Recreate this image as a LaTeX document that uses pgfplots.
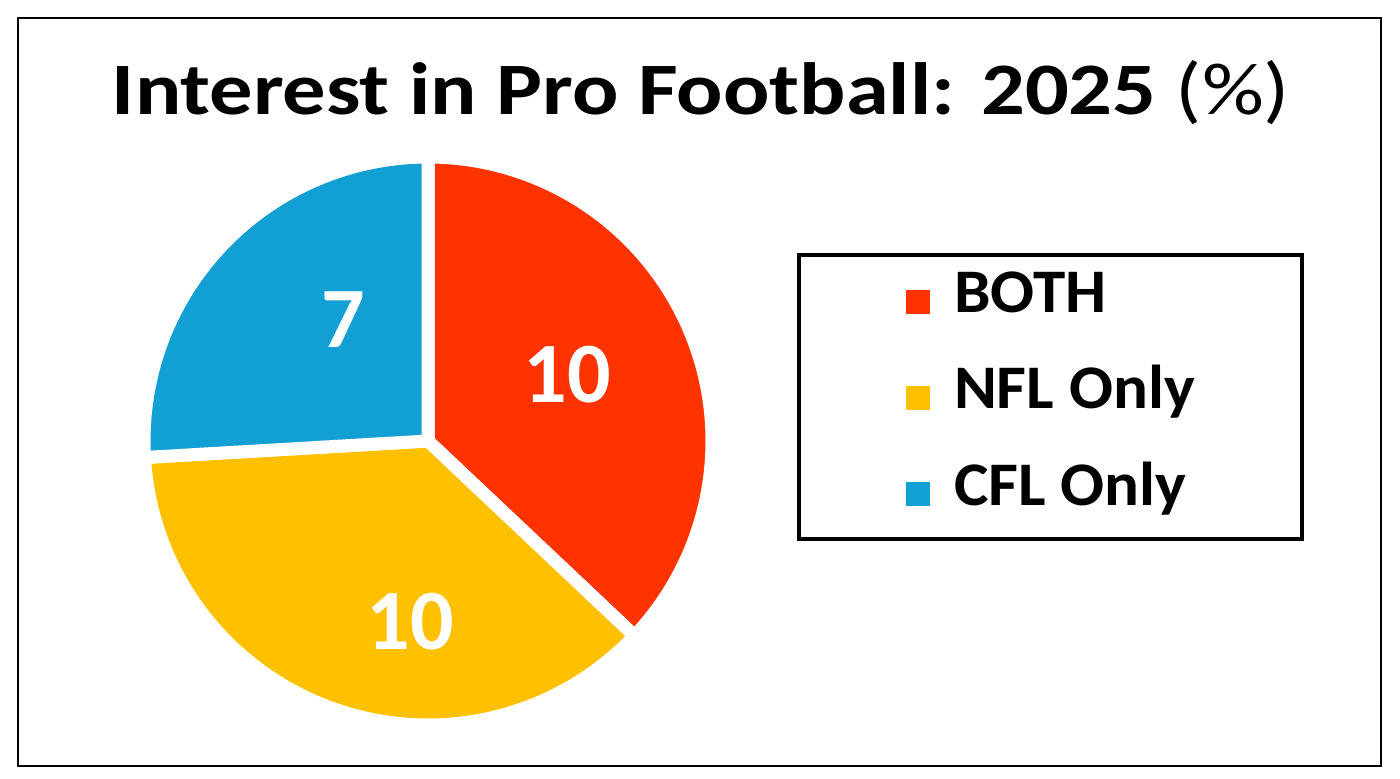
\documentclass[border=0pt]{standalone}
\usepackage{fontspec}
\setmainfont{Carlito}
\usepackage{graphicx}
\usepackage{pgfplots}
\usepackage{pgfplotstable}
\pgfplotsset{compat=1.18}

\definecolor{cboth}{HTML}{FF3300}
\definecolor{cnfl}{HTML}{FFC000}
\definecolor{ccfl}{HTML}{129FD4}

\pgfplotstableread{
label value
BOTH 10
NFL 10
CFL 7
}\piedata

\newcommand\legtext[1]{\hspace{12pt}\scalebox{1.05}[1]{#1}}

\begin{document}
\begin{tikzpicture}
% slice values and angles (clockwise from 12 o'clock)
\pgfplotstablegetelem{0}{value}\of\piedata \let\va\pgfplotsretval
\pgfplotstablegetelem{1}{value}\of\piedata \let\vb\pgfplotsretval
\pgfplotstablegetelem{2}{value}\of\piedata \let\vc\pgfplotsretval
\pgfmathsetmacro\tot{\va+\vb+\vc}
\pgfmathsetmacro\aA{90}
\pgfmathsetmacro\aB{\aA-360*\va/\tot}
\pgfmathsetmacro\aC{\aB-360*\vb/\tot}
\pgfmathsetmacro\aD{\aC-360*\vc/\tot}
\def\cx{428}\def\cy{441}\def\rr{284}
\begin{axis}[
    scale only axis,
    width=700pt, height=389.5pt,
    xmin=0, xmax=1400, ymin=0, ymax=779,
    y dir=reverse,
    hide axis, clip=false,
    legend style={
        at={(axis cs:797,253)}, anchor=north west,
        draw=black, line width=2pt,
        inner xsep=53.5pt, inner ysep=9pt,
        row sep=20pt,
        font=\bfseries\fontsize{31}{31}\selectfont,
        nodes={inner sep=0pt, text height=20pt, text depth=8pt},
    },
    legend cell align=left,
    legend image code/.code={
        \path[#1, draw=none] (0pt,-6.5pt) rectangle (12pt,5.5pt);
    },
]
\path (rel axis cs:0,0) rectangle (rel axis cs:1,1);

\addplot[fill=cboth, draw=white, line width=6.5pt, line join=round,
    domain=\aB:\aA, samples=120]
    ({\cx+\rr*cos(x)}, {\cy-\rr*sin(x)}) -- (\cx,\cy) -- cycle;
\addlegendentry{\legtext{BOTH}}
\addplot[fill=cnfl, draw=white, line width=6.5pt, line join=round,
    domain=\aC:\aB, samples=120]
    ({\cx+\rr*cos(x)}, {\cy-\rr*sin(x)}) -- (\cx,\cy) -- cycle;
\addlegendentry{\legtext{NFL Only}}
\addplot[fill=ccfl, draw=white, line width=6.5pt, line join=round,
    domain=\aD:\aC, samples=120]
    ({\cx+\rr*cos(x)}, {\cy-\rr*sin(x)}) -- (\cx,\cy) -- cycle;
\addlegendentry{\legtext{CFL Only}}

% slice labels
\node[text=white, font=\bfseries\fontsize{43}{43}\selectfont] at (567,375) {\va};
\node[text=white, font=\bfseries\fontsize{43}{43}\selectfont] at (410,622) {\vb};
\node[text=white, font=\bfseries\fontsize{43}{43}\selectfont] at (343,320) {\vc};

% title and frame
\node[anchor=base, inner sep=0pt, font=\bfseries\fontsize{37}{37}\selectfont] at (701,115)
    {\resizebox{589pt}{\height}{Interest in Pro Football: 2025 {\mdseries(\%)}}};
\draw[line width=1pt] (18,18) rectangle (1381,766);
\end{axis}
\end{tikzpicture}
\end{document}
